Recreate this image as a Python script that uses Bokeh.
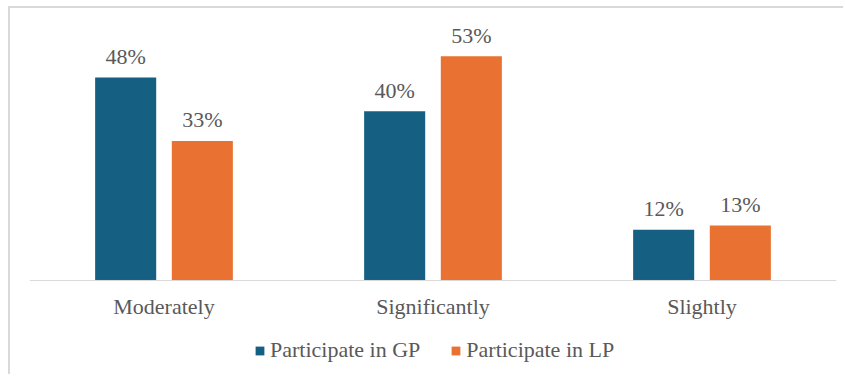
from bokeh.plotting import figure
from bokeh.models import ColumnDataSource, FactorRange, Range1d, Legend, LegendItem, Span
from bokeh.transform import dodge
from bokeh.core.properties import value
from bokeh.embed import file_html
from bokeh.resources import INLINE

categories = ["Moderately", "Significantly", "Slightly"]
gp_values = [48, 40, 12]
lp_values = [33, 53, 13]
series_names = ["Participate in GP", "Participate in LP"]

GP_COLOR = "#156082"
LP_COLOR = "#E97132"
TEXT_COLOR = "#595959"
FONT = "Liberation Serif"

source = ColumnDataSource(data=dict(
    cat=categories,
    zero=[0] * len(categories),
    gp=gp_values,
    lp=lp_values,
    gp_lbl=[f"{v}%" for v in gp_values],
    lp_lbl=[f"{v}%" for v in lp_values],
))

p = figure(
    x_range=FactorRange(*categories, range_padding=0),
    y_range=Range1d(-22.7, 64.3),
    width=835, height=368,
    output_backend="svg", toolbar_location=None,
    min_border_left=19, min_border_right=9, min_border_top=0, min_border_bottom=0,
    x_axis_location=None, y_axis_location=None,
)
p.margin = (6, 0, 0, 8)
p.styles = {"border-top": "2px solid #d9d9d9", "border-left": "2px solid #d9d9d9"}
p.outline_line_color = None
p.xgrid.grid_line_color = None
p.ygrid.grid_line_color = None
p.background_fill_color = "white"
p.border_fill_color = "white"

bw = 0.227
off = 0.1425
r_gp = p.vbar(x=dodge("cat", -off, range=p.x_range), top="gp", width=bw, source=source,
              fill_color=GP_COLOR, line_color=None)
r_lp = p.vbar(x=dodge("cat", off, range=p.x_range), top="lp", width=bw, source=source,
              fill_color=LP_COLOR, line_color=None)

for col, lbl, o in (("gp", "gp_lbl", -off), ("lp", "lp_lbl", off)):
    p.text(x=dodge("cat", o, range=p.x_range), y=col, text=lbl, source=source,
           text_align="center", text_baseline="alphabetic", y_offset=-21,
           text_font=value(FONT), text_font_size="22px", text_color=TEXT_COLOR)

# category axis baseline and labels
p.add_layout(Span(location=0, dimension="width", line_color="#d9d9d9", line_width=1))
p.text(x="cat", y="zero", text="cat", source=source,
       text_align="center", text_baseline="middle", y_offset=26,
       text_font=value(FONT), text_font_size="22px", text_color=TEXT_COLOR)

legend = Legend(
    items=[LegendItem(label=series_names[0], renderers=[r_gp]),
           LegendItem(label=series_names[1], renderers=[r_lp])],
    orientation="horizontal", location=(225, 13),
    glyph_width=11, glyph_height=11, label_standoff=5, spacing=30,
    padding=0, margin=0, border_line_color=None, background_fill_alpha=0,
    label_text_font=FONT, label_text_font_size="22px", label_text_color=TEXT_COLOR,
)
p.add_layout(legend, "center")

open("out.html", "w").write(file_html(p, INLINE))
